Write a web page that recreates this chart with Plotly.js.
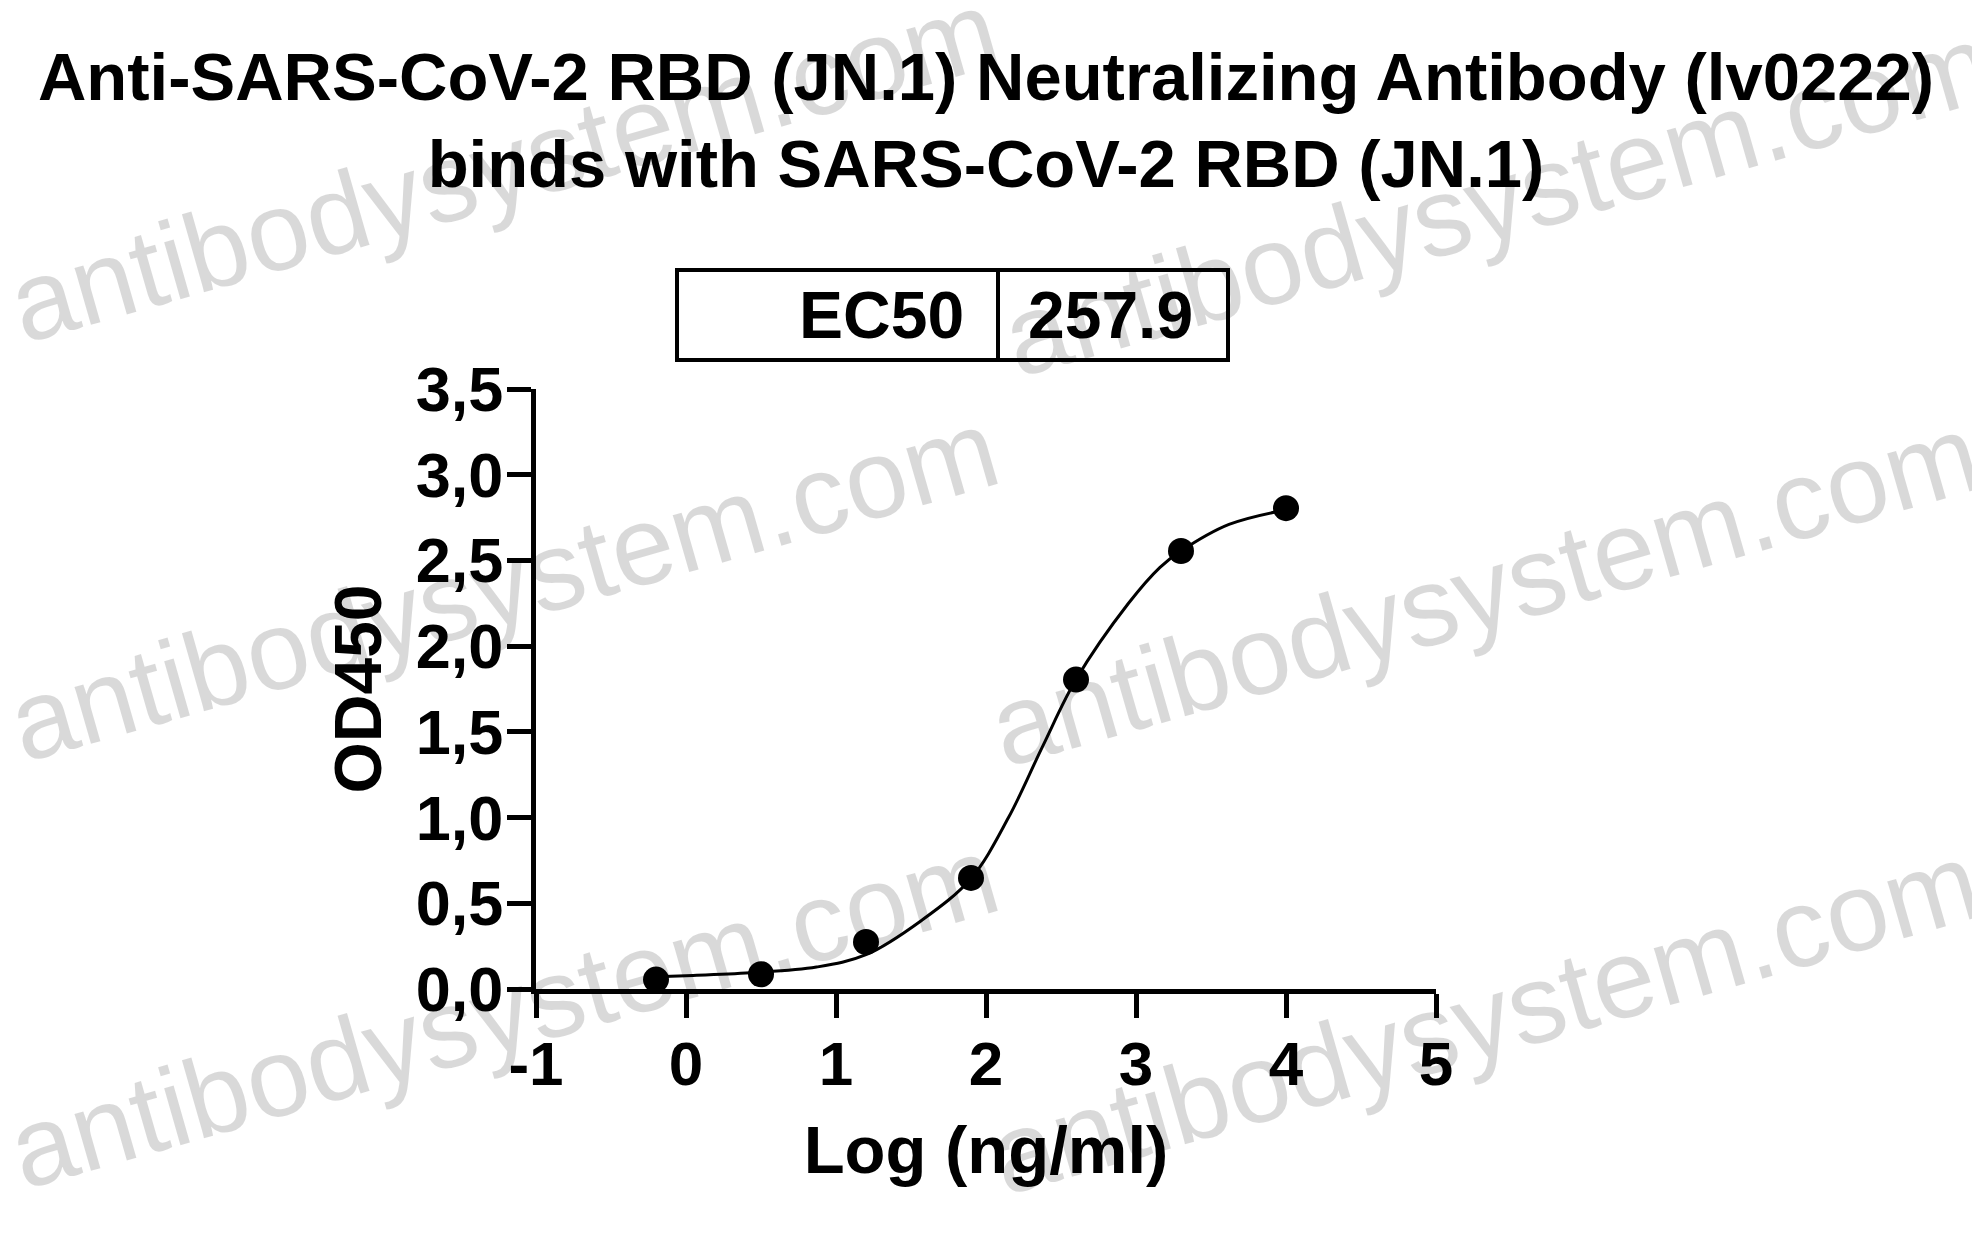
<!DOCTYPE html>
<html>
<head>
<meta charset="utf-8">
<script src="https://cdn.plot.ly/plotly-3.0.1.min.js"></script>
<style>html,body{margin:0;padding:0;background:#fff;}#chart{width:1972px;height:1237px;}</style>
</head>
<body>
<div id="chart"></div>
<script>
// Measured points: log10 concentration (ng/ml) vs OD450
const logConc = [-0.2, 0.5, 1.2, 1.9, 2.6, 3.3, 4.0];
const od450 = [0.055, 0.086, 0.274, 0.648, 1.805, 2.555, 2.805];

// Fitted curve
const fitX = [-0.2, 0.0, 0.43, 0.87, 1.2, 1.57, 1.9, 2.15, 2.38, 2.6, 2.95, 3.16, 3.3, 3.62, 4.0];
const fitY = [0.072, 0.078, 0.095, 0.128, 0.20, 0.40, 0.645, 1.0, 1.42, 1.805, 2.25, 2.46, 2.555, 2.71, 2.795];

// Tick labels
const xTickVals = [-1, 0, 1, 2, 3, 4, 5];
const xTickText = ["-1", "0", "1", "2", "3", "4", "5"];
const yTickVals = [0, 0.5, 1, 1.5, 2, 2.5, 3, 3.5];
const yTickText = ["0,0", "0,5", "1,0", "1,5", "2,0", "2,5", "3,0", "3,5"];

// EC50 table
const ec50Label = "EC50";
const ec50Value = "257.9";

const titleText = "Anti-SARS-CoV-2 RBD (JN.1) Neutralizing Antibody (lv0222)<br>binds with SARS-CoV-2 RBD (JN.1)";
const watermark = "antibodysystem.com";

const FONT = "Liberation Sans, Arial, Helvetica, sans-serif";
const W = 1972, H = 1237;
const L = 536, R = 536, T = 389, B = 248;
const pw = W - L - R, ph = H - T - B;
const px = v => (v - L) / pw;          // pixel x -> paper x
const py = v => (H - B - v) / ph;      // pixel y -> paper y

const traces = [
  {
    x: fitX, y: fitY, mode: "lines", type: "scatter",
    line: {color: "#000", width: 3, shape: "spline", smoothing: 1},
    hoverinfo: "skip", showlegend: false, cliponaxis: false
  },
  {
    x: logConc, y: od450, mode: "markers", type: "scatter",
    marker: {color: "#000", size: 26, line: {width: 0}},
    showlegend: false, cliponaxis: false
  }
];

const wmPos = [[503, 166], [1497, 200], [503, 585], [1484, 590], [503, 1012], [1484, 1018]];
const annotations = wmPos.map(p => ({
  xref: "paper", yref: "paper", x: px(p[0]), y: py(p[1]),
  xanchor: "center", yanchor: "middle", showarrow: false,
  text: watermark, textangle: -16,
  font: {family: FONT, size: 112, color: "rgba(0,0,0,0.15)"}
}));
annotations.push({
  xref: "paper", yref: "paper", x: px(966), y: py(315),
  xanchor: "right", yanchor: "middle", showarrow: false,
  text: ec50Label, font: {family: FONT, size: 66, color: "#000", weight: 700}
});
annotations.push({
  xref: "paper", yref: "paper", x: px(1110), y: py(315),
  xanchor: "center", yanchor: "middle", showarrow: false,
  text: ec50Value, font: {family: FONT, size: 66, color: "#000", weight: 700}
});

const layout = {
  width: W, height: H,
  paper_bgcolor: "#fff", plot_bgcolor: "rgba(0,0,0,0)",
  margin: {l: L, r: R, t: T, b: B, pad: 0},
  font: {family: FONT, color: "#000"},
  title: {
    text: titleText, x: 0.5, xanchor: "center",
    y: 1 - 100 / H, yanchor: "top", yref: "container",
    font: {family: FONT, size: 67, color: "#000", weight: 700}
  },
  xaxis: {
    range: [-1, 5], tickvals: xTickVals, ticktext: xTickText,
    showgrid: false, zeroline: false, showline: true, linecolor: "#000", linewidth: 5,
    ticks: "outside", ticklen: 24, tickwidth: 5, tickcolor: "#000",
    ticklabelstandoff: -7,
    tickfont: {family: FONT, size: 62, color: "#000", weight: 700},
    title: {text: "Log (ng/ml)", standoff: 30, font: {family: FONT, size: 67, color: "#000", weight: 700}},
    automargin: false
  },
  yaxis: {
    range: [0, 3.5], tickvals: yTickVals, ticktext: yTickText,
    showgrid: false, zeroline: false, showline: true, linecolor: "#000", linewidth: 5,
    ticks: "outside", ticklen: 24, tickwidth: 5, tickcolor: "#000",
    ticklabelstandoff: -9,
    tickfont: {family: FONT, size: 63, color: "#000", weight: 700},
    title: {text: "OD450", standoff: 14, font: {family: FONT, size: 66, color: "#000", weight: 700}},
    automargin: false
  },
  shapes: [
    {type: "rect", xref: "paper", yref: "paper", x0: px(677), x1: px(1228), y0: py(360), y1: py(270),
     line: {color: "#000", width: 4}, fillcolor: "rgba(0,0,0,0)"},
    {type: "line", xref: "paper", yref: "paper", x0: px(998), x1: px(998), y0: py(360), y1: py(270),
     line: {color: "#000", width: 4}}
  ],
  annotations: annotations,
  showlegend: false
};

Plotly.newPlot("chart", traces, layout, {displayModeBar: false, staticPlot: true});
</script>
</body>
</html>
